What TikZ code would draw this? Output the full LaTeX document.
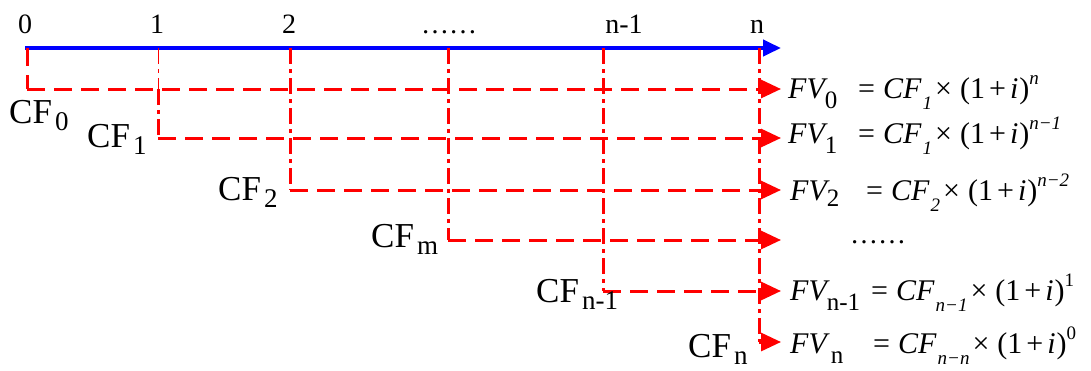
\documentclass[tikz,border=0pt]{standalone}
\usepackage{fontspec}
\setmainfont{Liberation Serif}
\usetikzlibrary{arrows.meta}
\newcommand{\tksize}{\fontsize{28}{30}\selectfont}
\newcommand{\cfl}[1]{{\fontsize{35}{37}\selectfont CF\hspace{3pt}\raisebox{-7pt}{\fontsize{27}{28}\selectfont #1}}}
\newcommand{\fvl}[2][-10pt]{{\fontsize{30}{32}\selectfont\itshape FV\hspace{0pt}\raisebox{#1}{\fontsize{25}{26}\selectfont\upshape #2}}}
\newcommand{\eqr}[2]{{\fontsize{30}{32}\selectfont =\hspace{8pt}\textit{CF}\hspace{1pt}\raisebox{-11pt}{\fontsize{19}{19}\selectfont\itshape #1}\hspace{3pt}×\hspace{8pt}(1\hspace{4pt}+\hspace{4pt}\textit{i}\hspace{1pt})\raisebox{14pt}{\fontsize{19}{19}\selectfont\itshape #2}}}
\tikzset{
  axisline/.style={blue, line width=4pt, -{Triangle[length=18pt,width=16pt]}},
  hrow/.style={red, line width=3pt, dash pattern=on 18pt off 9pt, -{Triangle[length=20pt,width=18pt]}},
  vcol/.style={red, line width=3pt, dash pattern=on 16pt off 5pt on 4pt off 5pt},
  vthin/.style={red, line width=1pt, dash pattern=on 16pt off 5pt on 4pt off 5pt},
  vdash/.style={red, line width=3pt, dash pattern=on 18pt off 9pt},
  tick/.style={anchor=base, inner sep=0pt, font=\tksize},
  lab/.style={anchor=base west, inner sep=0pt},
}
\begin{document}
\begin{tikzpicture}[x=1pt,y=-1pt]
\useasboundingbox (0,0) rectangle (1091,370);
% axis
\coordinate (ax0) at (25,48);
\coordinate (ax1) at (781,48);
\draw[axisline] (ax0) -- (ax1);
% tick labels
\node[tick] (l0) at (25,33) {0};
\node[tick] (l1) at (157,33) {1};
\node[tick] (l2) at (289,33) {2};
\node[tick] (lm) at (449,33) {……};
\node[tick] (ln1) at (624,33) {n-1};
\node[tick] (ln) at (757,33) {n};
% column tops
\coordinate (t0) at (27,48);
\coordinate (t1) at (158,48);
\coordinate (t2) at (290,48);
\coordinate (tm) at (448,48);
\coordinate (tn1) at (603,48);
\coordinate (tn) at (759,48);
% row starts / ends
\coordinate (s0) at (27,89);   \coordinate (e0) at (781,89);
\coordinate (s1) at (158,138); \coordinate (e1) at (781,138);
\coordinate (s2) at (290,190); \coordinate (e2) at (781,190);
\coordinate (sm) at (448,240); \coordinate (em) at (781,240);
\coordinate (sn1) at (603,291); \coordinate (en1) at (781,291);
\coordinate (sn) at (759,342); \coordinate (en) at (781,342);
\coordinate (s1a) at (158,89);
% horizontal rows
\draw[hrow] (s0) -- (e0);
\draw[hrow] (s1) -- (e1);
\draw[hrow] (s2) -- (e2);
\draw[hrow] (sm) -- (em);
\draw[hrow] (sn1) -- (en1);
\draw[hrow] (sn) -- (en);
% verticals
\draw[vdash] (t0) -- (s0);
\draw[vthin] (t1) -- (s1a);
\draw[vcol] (s1a) -- (s1);
\draw[vcol] (t2) -- (s2);
\draw[vcol] (tm) -- (sm);
\draw[vcol] (tn1) -- (sn1);
\draw[vcol] (tn) -- (sn);
% CF labels
\node[lab] (cf0) at (9,123) {\cfl{0}};
\node[lab] (cf1) at (87,147) {\cfl{1}};
\node[lab] (cf2) at (218,200) {\cfl{2}};
\node[lab] (cfm) at (371,247) {\cfl{m}};
\node[lab] (cfn1) at (536,302) {\cfl{n-1}};
\node[lab] (cfn) at (688,357) {\cfl{n}};
% FV labels
\node[lab] (fv0) at (788,98) {\fvl{0}};
\node[lab] (fv1) at (788,143) {\fvl{1}};
\node[lab] (fv2) at (790,200) {\fvl[-6pt]{2}};
\node[lab] (dots) at (850,243) {\fontsize{28}{30}\selectfont ……};
\node[lab] (fvn1) at (790,300) {\fvl{n-1}};
\node[lab] (fvn) at (790,353) {\fvl{\hspace{4pt}n}};
% equations
\node[lab] (q0) at (858,98) {\eqr{1}{n}};
\node[lab] (q1) at (858,143) {\eqr{1}{n−1}};
\node[lab] (q2) at (866,200) {\eqr{2}{n−2}};
\node[lab] (qn1) at (871,300) {\eqr{n−1}{\upshape 1}};
\node[lab] (qn) at (873,353) {\eqr{n−n}{\upshape 0}};
\end{tikzpicture}
\end{document}
